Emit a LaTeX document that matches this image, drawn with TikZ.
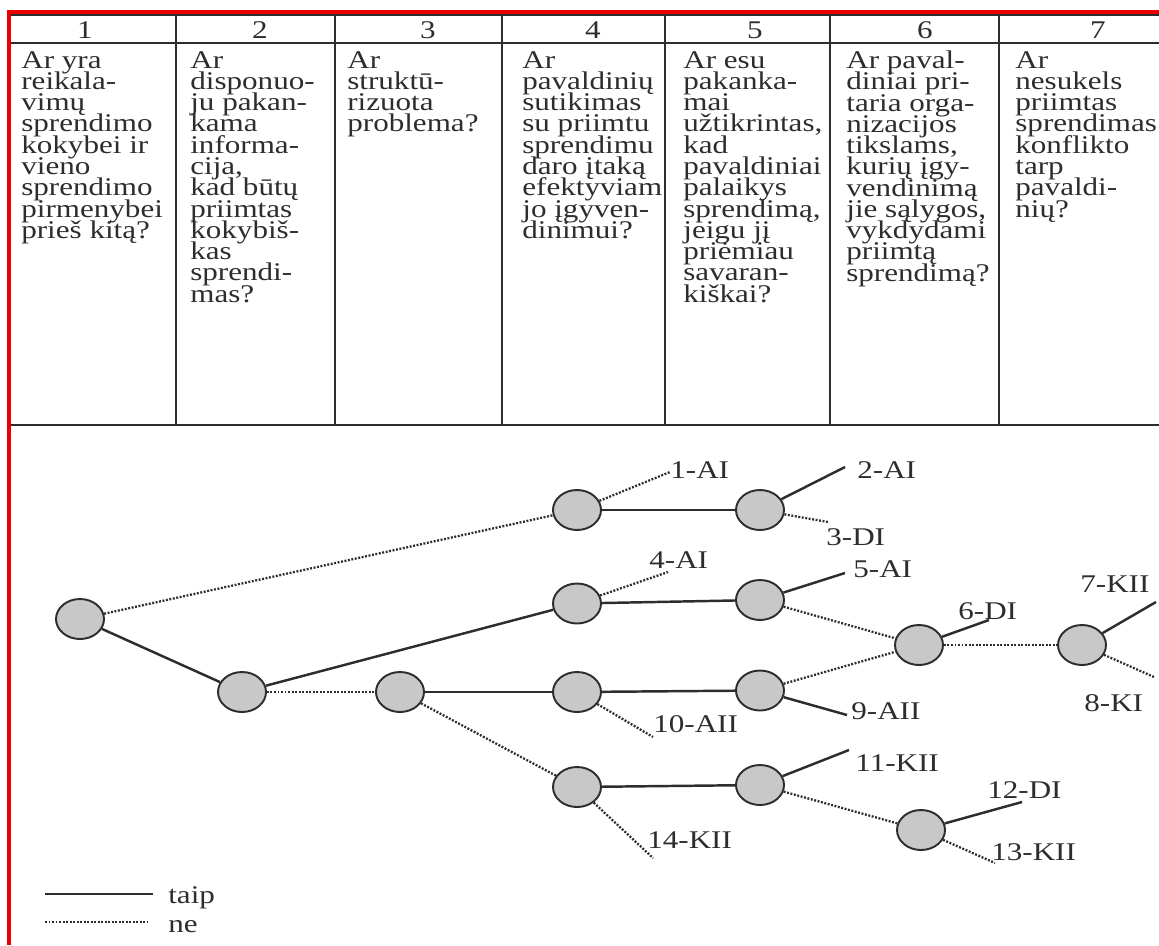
\documentclass[tikz,border=0pt]{standalone}
\usepackage{fontspec}
\setmainfont{Liberation Serif}[FakeStretch=1.22]
\usetikzlibrary{shapes.geometric}
\pgfdeclarelayer{edgelayer}
\pgfdeclarelayer{nodelayer}
\pgfsetlayers{edgelayer,nodelayer,main}
\definecolor{frame}{RGB}{235,0,0}
\definecolor{ballfill}{RGB}{200,200,200}
\definecolor{ink}{RGB}{45,45,45}
\newcommand{\cellfont}{\fontsize{14.5}{12.1}\selectfont\lineskiplimit=-\maxdimen}
\tikzstyle{none}=[inner sep=0pt]
\tikzstyle{cell}=[inner sep=0pt,anchor=north west,align=left,font=\cellfont,text=ink]
\tikzstyle{number}=[inner sep=0pt,anchor=base,font=\cellfont,text=ink]
\tikzstyle{leaf}=[inner sep=0pt,anchor=west,font=\cellfont,text=ink]
\tikzstyle{decision}=[ellipse,fill=ballfill,draw=ink,line width=1.1pt,minimum width=0.96cm,minimum height=0.8cm,inner sep=0pt]
\tikzstyle{taip}=[-,draw=ink,line width=1.4pt]
\tikzstyle{ne}=[-,draw=ink,line width=1.3pt,dash pattern=on 1.1pt off 0.9pt]
\tikzstyle{rule}=[-,draw=ink,line width=0.85pt]

\begin{document}
\begin{tikzpicture}
	\useasboundingbox (0, 0) rectangle (23.18, -18.9);
	\begin{pgfonlayer}{nodelayer}
		% column numbers
		\node [style=number] (h1) at (1.70, -0.77) {1};
		\node [style=number] (h2) at (5.20, -0.77) {2};
		\node [style=number] (h3) at (8.56, -0.77) {3};
		\node [style=number] (h4) at (11.86, -0.77) {4};
		\node [style=number] (h5) at (15.10, -0.77) {5};
		\node [style=number] (h6) at (18.50, -0.77) {6};
		\node [style=number] (h7) at (21.96, -0.77) {7};
		% questions
		\node [style=cell] (q1) at (0.42, -1.02) {Ar yra\\reikala-\\vimų\\sprendimo\\kokybei ir\\vieno\\sprendimo\\pirmenybei\\prieš kitą?};
		\node [style=cell] (q2) at (3.80, -1.02) {Ar\\disponuo-\\ju pakan-\\kama\\informa-\\cija,\\kad būtų\\priimtas\\kokybiš-\\kas\\sprendi-\\mas?};
		\node [style=cell] (q3) at (6.94, -1.02) {Ar\\struktū-\\rizuota\\problema?};
		\node [style=cell] (q4) at (10.44, -1.02) {Ar\\pavaldinių\\sutikimas\\su priimtu\\sprendimu\\daro įtaką\\efektyviam\\jo įgyven-\\dinimui?};
		\node [style=cell] (q5) at (13.66, -1.02) {Ar esu\\pakanka-\\mai\\užtikrintas,\\kad\\pavaldiniai\\palaikys\\sprendimą,\\jeigu jį\\priėmiau\\savaran-\\kiškai?};
		\node [style=cell] (q6) at (16.92, -1.01) {Ar paval-\\diniai pri-\\taria orga-\\nizacijos\\tikslams,\\kurių įgy-\\vendinimą\\jie sąlygos,\\vykdydami\\priimtą\\sprendimą?};
		\node [style=cell] (q7) at (20.30, -1.02) {Ar\\nesukels\\priimtas\\sprendimas\\konflikto\\tarp\\pavaldi-\\nių?};
		% decision points
		\node [style=decision] (0) at (1.60, -12.38) {};
		\node [style=decision] (1) at (4.84, -13.84) {};
		\node [style=decision] (2) at (8.00, -13.84) {};
		\node [style=decision] (3) at (11.54, -10.20) {};
		\node [style=decision] (4) at (11.54, -12.07) {};
		\node [style=decision] (5) at (11.54, -13.84) {};
		\node [style=decision] (6) at (11.54, -15.74) {};
		\node [style=decision] (7) at (15.20, -10.20) {};
		\node [style=decision] (8) at (15.20, -12.00) {};
		\node [style=decision] (9) at (15.20, -13.81) {};
		\node [style=decision] (10) at (15.20, -15.70) {};
		\node [style=decision] (11) at (18.38, -12.90) {};
		\node [style=decision] (12) at (18.42, -16.60) {};
		\node [style=decision] (13) at (21.64, -12.90) {};
		% branch ends
		\node [style=none] (14) at (13.40, -9.44) {};
		\node [style=none] (15) at (16.90, -9.34) {};
		\node [style=none] (16) at (16.56, -10.44) {};
		\node [style=none] (17) at (13.36, -11.44) {};
		\node [style=none] (18) at (16.90, -11.46) {};
		\node [style=none] (19) at (19.78, -12.40) {};
		\node [style=none] (20) at (23.12, -12.04) {};
		\node [style=none] (21) at (23.08, -13.54) {};
		\node [style=none] (22) at (16.94, -14.30) {};
		\node [style=none] (23) at (13.06, -14.74) {};
		\node [style=none] (24) at (16.98, -15.00) {};
		\node [style=none] (25) at (20.44, -16.04) {};
		\node [style=none] (26) at (19.90, -17.26) {};
		\node [style=none] (27) at (13.06, -17.16) {};
		% outcomes
		\node [style=leaf] (28) at (13.40, -9.40) {1-AI};
		\node [style=leaf] (29) at (17.14, -9.40) {2-AI};
		\node [style=leaf] (30) at (16.52, -10.74) {3-DI};
		\node [style=leaf] (31) at (12.98, -11.21) {4-AI};
		\node [style=leaf] (32) at (17.06, -11.38) {5-AI};
		\node [style=leaf] (33) at (19.16, -12.22) {6-DI};
		\node [style=leaf] (34) at (21.60, -11.68) {7-KII};
		\node [style=leaf] (35) at (21.68, -14.06) {8-KI};
		\node [style=leaf] (36) at (17.02, -14.22) {9-AII};
		\node [style=leaf] (37) at (13.06, -14.49) {10-AII};
		\node [style=leaf] (38) at (17.10, -15.26) {11-KII};
		\node [style=leaf] (39) at (19.74, -15.80) {12-DI};
		\node [style=leaf] (40) at (19.82, -17.04) {13-KII};
		\node [style=leaf] (41) at (12.94, -16.80) {14-KII};
		% legend
		\node [style=none] (42) at (0.90, -17.88) {};
		\node [style=none] (43) at (3.06, -17.88) {};
		\node [style=none] (44) at (0.90, -18.44) {};
		\node [style=none] (45) at (2.94, -18.44) {};
		\node [style=number, anchor=base west] (46) at (3.36, -18.06) {taip};
		\node [style=number, anchor=base west] (47) at (3.36, -18.64) {ne};
	\end{pgfonlayer}
	\begin{pgfonlayer}{edgelayer}
		% table rules
		\draw [style=rule] (0.18, -0.30) to (23.18, -0.30);
		\draw [style=rule] (0.18, -0.86) to (23.18, -0.86);
		\draw [style=rule] (0.18, -8.50) to (23.18, -8.50);
		\foreach \x in {3.52, 6.70, 10.04, 13.30, 16.60, 19.98}
			\draw [style=rule] (\x, -0.30) to (\x, -8.50);
		% tree
		\draw [style=ne] (0) to (3);
		\draw [style=taip] (0) to (1);
		\draw [style=taip] (1) to (4);
		\draw [style=ne] (1) to (2);
		\draw [style=taip] (2) to (5);
		\draw [style=ne] (2) to (6);
		\draw [style=taip] (3) to (7);
		\draw [style=taip] (4) to (8);
		\draw [style=taip] (5) to (9);
		\draw [style=taip] (6) to (10);
		\draw [style=ne] (8) to (11);
		\draw [style=ne] (9) to (11);
		\draw [style=ne] (11) to (13);
		\draw [style=ne] (10) to (12);
		\draw [style=ne] (3) to (14.center);
		\draw [style=taip] (7) to (15.center);
		\draw [style=ne] (7) to (16.center);
		\draw [style=ne] (4) to (17.center);
		\draw [style=taip] (8) to (18.center);
		\draw [style=taip] (11) to (19.center);
		\draw [style=taip] (13) to (20.center);
		\draw [style=ne] (13) to (21.center);
		\draw [style=taip] (9) to (22.center);
		\draw [style=ne] (5) to (23.center);
		\draw [style=taip] (10) to (24.center);
		\draw [style=taip] (12) to (25.center);
		\draw [style=ne] (12) to (26.center);
		\draw [style=ne] (6) to (27.center);
		\draw [style=taip] (42.center) to (43.center);
		\draw [style=ne] (44.center) to (45.center);
	\end{pgfonlayer}
	% red frame
	\draw [frame, line width=0.08cm] (0.18, -18.9) -- (0.18, -0.24) -- (23.18, -0.24);
\end{tikzpicture}
\end{document}
